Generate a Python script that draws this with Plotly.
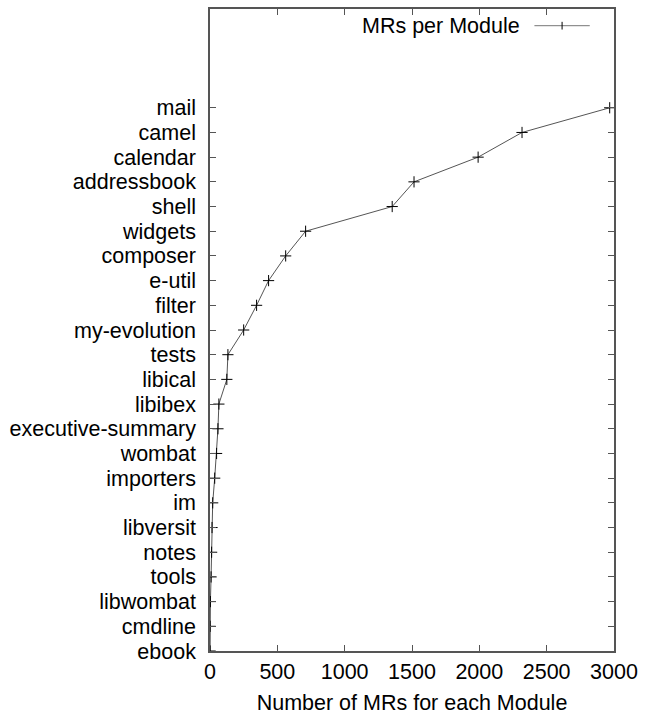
import plotly.graph_objects as go

# Modules ordered by MR count (bottom to top)
modules = [
    "ebook", "cmdline", "libwombat", "tools", "notes", "libversit", "im",
    "importers", "wombat", "executive-summary", "libibex", "libical", "tests",
    "my-evolution", "filter", "e-util", "composer", "widgets", "shell",
    "addressbook", "calendar", "camel", "mail",
]
mr_counts = [
    1, 1, 3, 8, 12, 15, 20,
    35, 49, 59, 66, 125, 133,
    250, 346, 435, 562, 710, 1353,
    1515, 1991, 2317, 2968,
]
positions = list(range(len(modules)))
x_ticks = [0, 500, 1000, 1500, 2000, 2500, 3000]

FONT = "Liberation Sans, Arial, Helvetica, sans-serif"
FS = 21.5
AXIS_COLOR = "#555555"

fig = go.Figure()
fig.add_trace(go.Scatter(
    x=mr_counts,
    y=positions,
    mode="lines+markers",
    name="MRs per Module",
    line=dict(color="#555555", width=1),
    marker=dict(symbol="cross-thin", size=8,
                line=dict(color="#000000", width=1), color="#000000"),
    showlegend=False,
))

# gnuplot-style key: text on the left, line sample with point on the right
fig.add_annotation(
    x=0.772, y=0.974, xref="paper", yref="paper",
    text="MRs per Module", showarrow=False,
    xanchor="right", yanchor="middle",
    font=dict(family=FONT, size=FS, color="#000000"),
)
fig.add_shape(
    type="line", xref="paper", yref="paper",
    x0=0.803, x1=0.940, y0=0.974, y1=0.974,
    line=dict(color="#777777", width=1),
)
fig.add_shape(
    type="line", xref="paper", yref="paper",
    x0=0.8715, x1=0.8715, y0=0.968, y1=0.980,
    line=dict(color="#000000", width=1),
)

fig.update_layout(
    width=645, height=719,
    margin=dict(l=210, r=27, t=7, b=68),
    plot_bgcolor="#ffffff", paper_bgcolor="#ffffff",
    font=dict(family=FONT, size=FS, color="#000000"),
    xaxis=dict(
        range=[0, 3000], tickvals=x_ticks,
        ticks="inside", ticklen=6, tickwidth=1, tickcolor=AXIS_COLOR,
        showline=True, linecolor=AXIS_COLOR, linewidth=1.5, mirror="ticks",
        showgrid=False, zeroline=False,
        tickfont=dict(size=FS),
        title=dict(text="Number of MRs for each Module", font=dict(size=FS), standoff=12),
    ),
    yaxis=dict(
        range=[0, 26], tickvals=positions, ticktext=modules,
        ticks="inside", ticklen=6, tickwidth=1, tickcolor=AXIS_COLOR,
        showline=True, linecolor=AXIS_COLOR, linewidth=1.5, mirror="ticks",
        showgrid=False, zeroline=False,
        tickfont=dict(size=FS),
        ticklabelstandoff=8,
    ),
)

fig.write_html("out.html")
